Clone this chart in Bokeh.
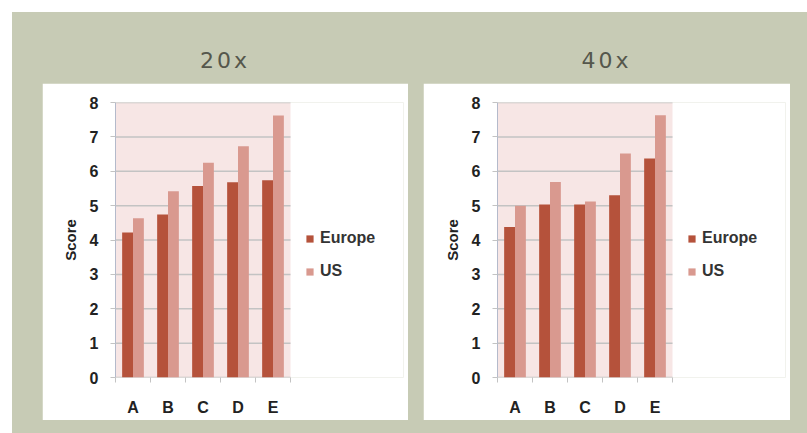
from bokeh.plotting import figure
from bokeh.models import (ColumnDataSource, FixedTicker, Legend, LegendItem,
                          Div, Range1d, BoxAnnotation)
from bokeh.layouts import row, column
from bokeh.transform import dodge
from bokeh.embed import file_html
from bokeh.resources import INLINE

# ---- data ----
categories = ["A", "B", "C", "D", "E"]
series_names = ["Europe", "US"]
panel_titles = ["20x", "40x"]
europe_20x = [4.22, 4.74, 5.57, 5.68, 5.74]
us_20x = [4.63, 5.42, 6.25, 6.73, 7.62]
europe_40x = [4.38, 5.03, 5.03, 5.30, 6.37]
us_40x = [5.00, 5.69, 5.12, 6.52, 7.63]
y_ticks = [0, 1, 2, 3, 4, 5, 6, 7, 8]

# ---- styles ----
GREEN = "#c7cbb5"
EUROPE_C = "#b5523b"
US_C = "#d9998f"
PLOT_BG = "#f7e6e5"
GRID_C = "#c3c3c3"
TXT = "#222222"
FONT = "Liberation Sans"

PANEL_H = 337
DATA_W = 175      # pixel width of the category area
FRAME_H = 275
BORDER_T = 19
BORDER_R = 5


def make_panel(europe, us, width, border_l):
    n = len(categories)
    frame_w = width - border_l - BORDER_R
    x_end = n * frame_w / DATA_W
    centers = [i + 0.5 for i in range(n)]
    src = ColumnDataSource(dict(x=centers, europe=europe, us=us))
    p = figure(width=width, height=PANEL_H,
               x_range=Range1d(0, x_end), y_range=Range1d(0, y_ticks[-1]),
               output_backend="svg", toolbar_location=None,
               min_border_left=border_l, min_border_top=BORDER_T,
               min_border_right=BORDER_R,
               min_border_bottom=PANEL_H - BORDER_T - FRAME_H)
    p.border_fill_color = "white"
    p.background_fill_color = "white"
    p.outline_line_color = None
    p.xgrid.grid_line_color = None
    p.ygrid.grid_line_color = None

    # plot-area fill over the category region only
    p.add_layout(BoxAnnotation(left=0, right=n, bottom=y_ticks[0], top=y_ticks[-1],
                               fill_color=PLOT_BG, fill_alpha=1.0,
                               line_color=None, level="underlay"))
    # horizontal grid lines at the tick values
    p.segment(x0=[0] * len(y_ticks), x1=[n] * len(y_ticks),
              y0=y_ticks, y1=y_ticks, line_color=GRID_C, line_width=1.5)

    r1 = p.vbar(x=dodge("x", -0.155), top="europe", width=0.31, source=src,
                fill_color=EUROPE_C, line_color=None)
    r2 = p.vbar(x=dodge("x", 0.155), top="us", width=0.31, source=src,
                fill_color=US_C, line_color=None)

    # y axis
    p.yaxis.ticker = FixedTicker(ticks=y_ticks)
    p.yaxis.axis_label = "Score"
    p.yaxis.axis_label_text_font = FONT
    p.yaxis.axis_label_text_font_style = "bold"
    p.yaxis.axis_label_text_font_size = "15px"
    p.yaxis.axis_label_text_color = TXT
    p.yaxis.axis_label_standoff = 8
    p.yaxis.major_label_text_font = FONT
    p.yaxis.major_label_text_font_style = "bold"
    p.yaxis.major_label_text_font_size = "16px"
    p.yaxis.major_label_text_color = TXT
    p.yaxis.major_label_standoff = 12
    p.yaxis.axis_line_color = "#b4bacb"
    p.yaxis.major_tick_line_color = GRID_C
    p.yaxis.major_tick_out = 5
    p.yaxis.major_tick_in = 0
    p.yaxis.minor_tick_line_color = None

    # x axis (labels at category centres, small ticks at category edges)
    p.xaxis.ticker = FixedTicker(ticks=centers, minor_ticks=list(range(n + 1)))
    p.xaxis.major_label_overrides = {c: lab for c, lab in zip(centers, categories)}
    p.xaxis.bounds = (0, n)
    p.xaxis.major_label_text_font = FONT
    p.xaxis.major_label_text_font_style = "bold"
    p.xaxis.major_label_text_font_size = "16px"
    p.xaxis.major_label_text_color = TXT
    p.xaxis.major_tick_line_color = None
    p.xaxis.major_tick_out = 0
    p.xaxis.major_tick_in = 0
    p.xaxis.major_label_standoff = 16
    p.xaxis.minor_tick_line_color = GRID_C
    p.xaxis.minor_tick_out = 5
    p.xaxis.minor_tick_in = 0
    p.xaxis.axis_line_color = None

    legend = Legend(items=[LegendItem(label=series_names[0], renderers=[r1]),
                           LegendItem(label=series_names[1], renderers=[r2])],
                    location=(DATA_W + 15, 96), margin=0, padding=10,
                    spacing=13, glyph_width=9, glyph_height=9,
                    label_height=20, label_standoff=6,
                    label_text_font=FONT, label_text_font_style="bold",
                    label_text_font_size="16px", label_text_color="#333333",
                    background_fill_alpha=0, border_line_color=None)
    p.add_layout(legend)
    return p


def make_title(text, width):
    html = ('<div style="width:%dpx;text-align:center;padding-top:33px;'
            'font-family:\'DejaVu Sans\';font-size:22px;letter-spacing:3px;'
            'color:#55574c;">%s</div>' % (width, text))
    return Div(text=html, width=width, height=71, margin=0)


p1 = make_panel(europe_20x, us_20x, 366, 73)
p2 = make_panel(europe_40x, us_40x, 367, 74)
c1 = column(make_title(panel_titles[0], 366), p1, margin=(0, 0, 13, 30), spacing=0)
c2 = column(make_title(panel_titles[1], 367), p2, margin=(0, 17, 13, 15), spacing=0)
root = row(c1, c2, spacing=0, margin=(12, 0, 0, 12),
           styles={"background-color": GREEN})

open("out.html", "w").write(file_html(root, INLINE))
